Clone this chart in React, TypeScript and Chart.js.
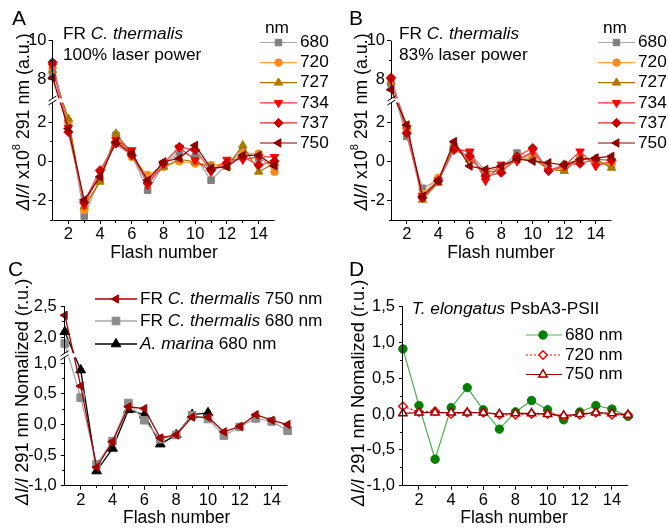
import React, { useEffect, useRef } from "react";
import { Chart, registerables } from "chart.js";
import { drawPoint } from "chart.js/helpers";

Chart.register(...registerables);

const W = 668;
const H = 528;
const FONT = '"Liberation Sans", Arial, Helvetica, sans-serif';

// ---------- data ----------
const FLASH = [1, 2, 3, 4, 5, 6, 7, 8, 9, 10, 11, 12, 13, 14, 15];
const X_MAJOR = [2, 4, 6, 8, 10, 12, 14];
const X_MINOR = [3, 5, 7, 9, 11, 13];

// Panel A: FR C. thermalis, 100% laser power (ΔI/I x10^8)
const A_680 = [8.2, 2.0, -2.8, -0.9, 1.33, 0.3, -1.48, -0.2, 0.47, 0.22, -0.97, -0.15, 0.56, 0.14, -0.27];
const A_720 = [8.6, 2.0, -2.5, -0.9, 1.16, 0.22, -0.71, -0.29, 0.0, -0.12, -0.2, -0.15, 0.42, 0.39, -0.54];
const A_727 = [8.5, 2.17, -2.3, -1.05, 1.41, 0.39, -1.05, -0.29, 0.1, -0.03, -0.3, -0.29, 0.81, -0.54, -0.1];
const A_734 = [8.7, 1.7, -2.24, -0.6, 1.1, 0.56, -1.22, -0.12, 0.7, 0.05, -0.54, 0.08, 0.08, 0.22, 0.22];
const A_737 = [8.9, 1.49, -2.1, -0.46, 0.9, 0.3, -1.1, -0.12, 0.73, 0.56, -0.46, -0.1, 0.22, -0.2, 0.0];
const A_750 = [8.1, 1.66, -1.98, -0.8, 0.98, 0.39, -0.97, -0.03, 0.15, 0.81, -0.37, -0.29, 0.3, 0.3, -0.24];

// Panel B: FR C. thermalis, 83% laser power
const B_680 = [7.8, 1.26, -1.38, -0.95, 0.76, 0.42, -0.5, -0.34, 0.42, 0.2, -0.4, -0.4, 0.15, 0.0, -0.2];
const B_720 = [8.1, 1.6, -1.66, -0.85, 0.6, 0.17, -0.59, -0.42, 0.17, 0.25, -0.45, -0.3, 0.2, -0.1, -0.1];
const B_727 = [7.9, 1.8, -1.97, -1.1, 0.85, 0.08, -0.56, -0.5, 0.08, 0.12, -0.4, -0.5, 0.17, 0.1, -0.34];
const B_734 = [8.0, 1.7, -1.77, -1.0, 0.59, 0.5, -1.0, -0.17, 0.0, 0.5, -0.5, -0.25, 0.5, -0.25, 0.0];
const B_737 = [8.1, 1.43, -1.87, -1.0, 0.59, 0.25, -0.76, -0.59, 0.25, 0.67, -0.5, -0.17, -0.13, 0.1, 0.05];
const B_750 = [7.5, 1.85, -1.8, -1.0, 1.0, -0.25, -0.42, -0.25, 0.12, 0.0, -0.08, -0.2, 0.08, 0.17, 0.25];

// Panel C: normalized
const C_CT750 = [2.36, 0.63, -0.7, -0.28, 0.29, 0.26, -0.22, -0.17, 0.12, 0.12, -0.12, -0.03, 0.16, 0.07, 0.0];
const C_CT680 = [1.9, 0.44, -0.65, -0.27, 0.35, 0.07, -0.24, -0.17, 0.15, 0.09, -0.18, -0.04, 0.1, 0.05, -0.1];
const C_AM680 = [2.09, 0.89, -0.76, -0.39, 0.24, 0.16, -0.32, -0.17, 0.16, 0.19];

// Panel D: T. elongatus PsbA3-PSII
const D_680 = [0.91, 0.12, -0.63, 0.09, 0.37, 0.06, -0.21, 0.03, 0.19, 0.06, -0.08, 0.03, 0.12, 0.07, -0.03];
const D_720 = [0.11, 0.03, 0.04, 0.0, 0.02, 0.02, -0.01, -0.01, 0.0, 0.0, -0.03, -0.01, 0.02, -0.01, -0.01];
const D_750 = [0.01, 0.02, 0.02, 0.02, 0.02, 0.02, 0.0, 0.01, 0.01, 0.0, -0.02, 0.0, 0.02, 0.01, -0.01];

// tick labels
const AB_Y_TICKS = [-2, 0, 2, 8, 10];
const AB_Y_MINOR = [-3, -1, 1, 9];
const C_Y_TICKS = [-1, -0.5, 0, 0.5, 1, 2, 2.5];
const C_Y_MINOR = [-0.75, -0.25, 0.25, 0.75, 2.25];
const D_Y_TICKS = [-1, -0.5, 0, 0.5, 1, 1.5];
const D_Y_MINOR = [-0.75, -0.25, 0.25, 0.75, 1.25];

// ---------- styles ----------
type Sty = {
  line: string;
  marker: string;
  fill?: string;
  style: string;
  rot: number;
  r: number;
  lw: number;
  pbw: number;
  dash?: number[];
};
type Series = Sty & { data: number[] };

const S680: Sty = { line: "#a6a6a6", marker: "#808080", style: "rect", rot: 0, r: 4.6, lw: 1.2, pbw: 1 };
const S720: Sty = { line: "#ffa64d", marker: "#ff8c1a", style: "circle", rot: 0, r: 3.8, lw: 1.2, pbw: 1 };
const S727: Sty = { line: "#9e7400", marker: "#a67c00", style: "triangle", rot: 0, r: 4.8, lw: 1.2, pbw: 1 };
const S734: Sty = { line: "#ff3333", marker: "#ff0000", style: "triangle", rot: 180, r: 4.8, lw: 1.2, pbw: 1 };
const S737: Sty = { line: "#e06666", marker: "#cc0000", style: "rectRot", rot: 0, r: 4.6, lw: 1.6, pbw: 1 };
const S750: Sty = { line: "#8b0000", marker: "#8b0000", style: "triangle", rot: -90, r: 4.8, lw: 1.2, pbw: 1 };
const AB_STYLES = [S680, S720, S727, S734, S737, S750];
const AB_LABELS = ["680", "720", "727", "734", "737", "750"];

const C_S750: Sty = { line: "#a00000", marker: "#a00000", style: "triangle", rot: -90, r: 4.8, lw: 1.3, pbw: 1 };
const C_S680: Sty = { line: "#a6a6a6", marker: "#8c8c8c", style: "rect", rot: 0, r: 5.4, lw: 1.3, pbw: 1 };
const C_SAM: Sty = { line: "#000000", marker: "#000000", style: "triangle", rot: 0, r: 5.6, lw: 1.3, pbw: 1 };

const D_S680: Sty = { line: "#4caf50", marker: "#008000", style: "circle", rot: 0, r: 4.2, lw: 1.2, pbw: 1 };
const D_S720: Sty = { line: "#ff0000", marker: "#ff0000", fill: "#ffffff", style: "rectRot", rot: 0, r: 4.2, lw: 1.2, pbw: 1.5, dash: [2, 2] };
const D_S750: Sty = { line: "#990000", marker: "#990000", fill: "#ffffff", style: "triangle", rot: 0, r: 4.8, lw: 1.2, pbw: 1.5 };

// ---------- text helpers ----------
type Part = { t: string; i?: boolean; sup?: boolean };
function fontOf(p: Part, size: number) {
  return `${p.i ? "italic " : ""}${p.sup ? size * 0.62 : size}px ${FONT}`;
}
function drawRich(ctx: CanvasRenderingContext2D, parts: Part[], x: number, y: number, size: number, align: "left" | "center" = "left") {
  let w = 0;
  for (const p of parts) {
    ctx.font = fontOf(p, size);
    w += ctx.measureText(p.t).width;
  }
  let cx = align === "center" ? x - w / 2 : x;
  ctx.textAlign = "left";
  ctx.textBaseline = "middle";
  ctx.fillStyle = "#000";
  for (const p of parts) {
    ctx.font = fontOf(p, size);
    ctx.fillText(p.t, cx, p.sup ? y - size * 0.4 : y);
    cx += ctx.measureText(p.t).width;
  }
}
function drawRotated(ctx: CanvasRenderingContext2D, parts: Part[], cx: number, cy: number, size: number) {
  ctx.save();
  ctx.translate(cx, cy);
  ctx.rotate(-Math.PI / 2);
  drawRich(ctx, parts, 0, 0, size, "center");
  ctx.restore();
}
function legendRow(ctx: CanvasRenderingContext2D, s: Sty, x1: number, x2: number, mx: number, y: number, tx: number, parts: Part[], size: number) {
  ctx.save();
  ctx.strokeStyle = s.line;
  ctx.lineWidth = s.lw;
  ctx.setLineDash(s.dash || []);
  ctx.beginPath();
  ctx.moveTo(x1, y);
  ctx.lineTo(x2, y);
  ctx.stroke();
  ctx.setLineDash([]);
  ctx.fillStyle = s.fill || s.marker;
  ctx.strokeStyle = s.marker;
  ctx.lineWidth = s.pbw;
  drawPoint(ctx, { pointStyle: s.style as any, rotation: s.rot, radius: s.r, borderWidth: s.pbw }, mx, y);
  ctx.restore();
  drawRich(ctx, parts, tx, y, size);
}

// ---------- panel configs ----------
type PanelCfg = {
  area: { left: number; right: number; top: number; bottom: number };
  yMin: number;
  yMax: number;
  breakAt?: number;
  gap?: number;
  breakDisp?: number;
  yTicks: number[];
  yMinor: number[];
  yPad: number;
  fmt: (v: number) => string;
  series: Series[];
  draw: (ctx: CanvasRenderingContext2D) => void;
};

const intFmt = (v: number) => String(v);
const commaFmt = (v: number) => v.toFixed(1).replace(".", ",");
const TXT = 17.3;
const TITLE_AB: Part[] = [{ t: "ΔI/I", i: true }, { t: " x10" }, { t: "8", sup: true }, { t: " 291 nm (a.u.)" }];
const TITLE_CD: Part[] = [{ t: "ΔI/I", i: true }, { t: " 291 nm Nomalized (r.u.)" }];

function abPanel(letter: string, lx: number, ax: number, lgx: number, power: string, datas: number[][], area: PanelCfg["area"], yTitleX: number, xTitleX: number): PanelCfg {
  return {
    area,
    yMin: -3,
    yMax: 6.15,
    breakAt: 5,
    gap: 3.85,
    breakDisp: 3.1,
    yTicks: AB_Y_TICKS,
    yMinor: AB_Y_MINOR,
    yPad: 2,
    fmt: intFmt,
    series: AB_STYLES.map((s, i) => ({ ...s, data: datas[i] })),
    draw: (ctx) => {
      ctx.fillStyle = "#000";
      ctx.font = `21px ${FONT}`;
      ctx.textAlign = "left";
      ctx.textBaseline = "alphabetic";
      ctx.fillText(letter, lx, 25);
      drawRich(ctx, [{ t: "FR " }, { t: "C. thermalis", i: true }], ax, 34, TXT);
      drawRich(ctx, [{ t: power }], ax, 55.5, TXT);
      drawRich(ctx, [{ t: "nm" }], lgx + 5, 28, TXT);
      AB_STYLES.forEach((s, i) => {
        const y = 42.5 + i * 20.1;
        legendRow(ctx, s, lgx, lgx + 37, lgx + 18.5, y, lgx + 40, [{ t: AB_LABELS[i] }], TXT);
      });
      drawRotated(ctx, TITLE_AB, yTitleX, 122, 17.8);
      drawRich(ctx, [{ t: "Flash number" }], xTitleX, 253, 17.6, "center");
    },
  };
}

const PANEL_A = abPanel("A", 12, 63, 260, "100% laser power", [A_680, A_720, A_727, A_734, A_737, A_750], { left: 52.5, right: 274.5, top: 40.7, bottom: 220 }, 24, 164);
const PANEL_B = abPanel("B", 349, 399, 598, "83% laser power", [B_680, B_720, B_727, B_734, B_737, B_750], { left: 391, right: 611.5, top: 40.7, bottom: 220 }, 362, 501);

const PANEL_C: PanelCfg = {
  area: { left: 64.8, right: 287.6, top: 306.7, bottom: 485.7 },
  yMin: -1,
  yMax: 1.925,
  breakAt: 1.5,
  gap: 0.575,
  breakDisp: 1.13,
  yTicks: C_Y_TICKS,
  yMinor: C_Y_MINOR,
  yPad: 4,
  fmt: commaFmt,
  series: [
    { ...C_SAM, data: C_AM680 },
    { ...C_S680, data: C_CT680 },
    { ...C_S750, data: C_CT750 },
  ],
  draw: (ctx) => {
    ctx.fillStyle = "#000";
    ctx.font = `21px ${FONT}`;
    ctx.textAlign = "left";
    ctx.textBaseline = "alphabetic";
    ctx.fillText("C", 8, 276);
    legendRow(ctx, C_S750, 95, 137, 116, 299, 140, [{ t: "FR " }, { t: "C. thermalis", i: true }, { t: " 750 nm" }], TXT);
    legendRow(ctx, C_S680, 95, 137, 116, 321, 140, [{ t: "FR " }, { t: "C. thermalis", i: true }, { t: " 680 nm" }], TXT);
    legendRow(ctx, C_SAM, 95, 137, 116, 344, 140, [{ t: "A. marina", i: true }, { t: " 680 nm" }], TXT);
    drawRotated(ctx, TITLE_CD, 23, 392, 18.2);
    drawRich(ctx, [{ t: "Flash number" }], 176.7, 518, 17.6, "center");
  },
};

const PANEL_D: PanelCfg = {
  area: { left: 402.9, right: 628, top: 306.7, bottom: 485.7 },
  yMin: -1,
  yMax: 1.5,
  yTicks: D_Y_TICKS,
  yMinor: D_Y_MINOR,
  yPad: 4,
  fmt: commaFmt,
  series: [
    { ...D_S680, data: D_680 },
    { ...D_S720, data: D_720 },
    { ...D_S750, data: D_750 },
  ],
  draw: (ctx) => {
    ctx.fillStyle = "#000";
    ctx.font = `21px ${FONT}`;
    ctx.textAlign = "left";
    ctx.textBaseline = "alphabetic";
    ctx.fillText("D", 349, 276);
    drawRich(ctx, [{ t: "T. elongatus", i: true }, { t: " PsbA3-PSII" }], 411.7, 309, TXT);
    legendRow(ctx, D_S680, 526, 562, 543, 335, 565, [{ t: "680 nm" }], TXT);
    legendRow(ctx, D_S720, 526, 562, 543, 355, 565, [{ t: "720 nm" }], TXT);
    legendRow(ctx, D_S750, 526, 562, 543, 374.5, 565, [{ t: "750 nm" }], TXT);
    drawRotated(ctx, TITLE_CD, 359, 393, 18.2);
    drawRich(ctx, [{ t: "Flash number" }], 514, 518, 17.6, "center");
  },
};

const PANELS = [PANEL_A, PANEL_B, PANEL_C, PANEL_D];

// ---------- chart builder ----------
const al = (v: number) => Math.round(v - 0.5) + 0.5;

function buildChart(canvas: HTMLCanvasElement, p: PanelCfg) {
  const disp = (v: number) => (p.gap && p.breakAt != null && v > p.breakAt ? v - p.gap : v);
  const n = p.series.length;
  const datasets = p.series.map((s, i) => ({
    data: s.data.map((v, k) => ({ x: FLASH[k], y: disp(v) })),
    borderColor: s.line,
    backgroundColor: s.fill || s.marker,
    pointBackgroundColor: s.fill || s.marker,
    pointBorderColor: s.marker,
    pointBorderWidth: s.pbw,
    pointStyle: s.style as any,
    pointRotation: s.rot,
    pointRadius: s.r,
    pointHoverRadius: s.r,
    borderWidth: s.lw,
    borderDash: s.dash || [],
    fill: false,
    tension: 0,
    clip: false as any,
    order: n - i,
  }));

  const deco = {
    id: "deco",
    afterDatasetsDraw(chart: any) {
      const ctx: CanvasRenderingContext2D = chart.ctx;
      const a = chart.chartArea;
      const xs = chart.scales.x;
      const ys = chart.scales.y;
      const ax = al(a.left);
      const bx = al(a.bottom);
      ctx.save();
      let by: number | null = null;
      if (p.breakDisp != null) {
        by = ys.getPixelForValue(p.breakDisp);
        const x2 = xs.getPixelForValue(2.6);
        ctx.fillStyle = "#ffffff";
        ctx.fillRect(a.left - 6, by - 2, x2 - a.left + 6, 4);
      }
      ctx.strokeStyle = "#000";
      ctx.lineWidth = 1;
      ctx.beginPath();
      if (by != null) {
        ctx.moveTo(ax, a.top);
        ctx.lineTo(ax, by - 2);
        ctx.moveTo(ax, by + 2);
        ctx.lineTo(ax, a.bottom);
      } else {
        ctx.moveTo(ax, a.top);
        ctx.lineTo(ax, a.bottom);
      }
      ctx.moveTo(a.left, bx);
      ctx.lineTo(a.right, bx);
      // minor ticks
      for (const v of p.yMinor) {
        const y = al(ys.getPixelForValue(disp(v)));
        ctx.moveTo(ax - 2.5, y);
        ctx.lineTo(ax, y);
      }
      for (const v of X_MINOR) {
        const x = al(xs.getPixelForValue(v));
        ctx.moveTo(x, bx);
        ctx.lineTo(x, bx + 2.5);
      }
      ctx.stroke();
      if (by != null) {
        ctx.beginPath();
        for (const dy of [-2, 2]) {
          ctx.moveTo(ax - 4, by + dy + 2.5);
          ctx.lineTo(ax + 4, by + dy - 2.5);
        }
        ctx.stroke();
      }
      ctx.restore();
    },
    afterDraw(chart: any) {
      const ctx: CanvasRenderingContext2D = chart.ctx;
      ctx.save();
      p.draw(ctx);
      ctx.restore();
    },
  };

  const tickFont = { family: FONT, size: 16.5 };
  const yAxisW = p.area.left;
  const xAxisH = H - p.area.bottom;
  return new Chart(canvas, {
    type: "line",
    data: { datasets: datasets as any },
    plugins: [deco],
    options: {
      animation: false,
      responsive: false,
      devicePixelRatio: 1,
      events: [],
      layout: {
        padding: {
          left: 0,
          top: p.area.top,
          right: W - p.area.right,
          bottom: 0,
        },
      },
      plugins: { legend: { display: false }, tooltip: { enabled: false } },
      scales: {
        x: {
          type: "linear",
          min: 1,
          max: 15,
          afterBuildTicks: (s: any) => {
            s.ticks = X_MAJOR.map((v) => ({ value: v }));
          },
          afterFit: (s: any) => {
            s.height = xAxisH;
          },
          ticks: {
            color: "#000",
            font: tickFont,
            padding: 1,
            maxRotation: 0,
            minRotation: 0,
            autoSkip: false,
            callback: (v: any) => String(v),
          },
          grid: { display: true, drawOnChartArea: false, drawTicks: true, tickLength: 4, color: "#000", lineWidth: 1 },
          border: { display: false },
        },
        y: {
          type: "linear",
          min: p.yMin,
          max: p.yMax,
          afterBuildTicks: (s: any) => {
            s.ticks = p.yTicks.map((v) => ({ value: disp(v) }));
          },
          afterFit: (s: any) => {
            s.width = yAxisW;
          },
          ticks: {
            color: "#000",
            font: tickFont,
            padding: p.yPad,
            autoSkip: false,
            callback: (_v: any, i: number) => p.fmt(p.yTicks[i]),
          },
          grid: { display: true, drawOnChartArea: false, drawTicks: true, tickLength: 4, color: "#000", lineWidth: 1 },
          border: { display: false },
        },
      },
    } as any,
  });
}

function Panel({ cfg }: { cfg: PanelCfg }) {
  const ref = useRef<HTMLCanvasElement>(null);
  useEffect(() => {
    const chart = buildChart(ref.current as HTMLCanvasElement, cfg);
    return () => chart.destroy();
  }, [cfg]);
  return <canvas ref={ref} width={W} height={H} style={{ position: "absolute", left: 0, top: 0, width: W, height: H }} />;
}

export default function App() {
  return (
    <div style={{ position: "absolute", left: 0, top: 0, width: W, height: H, background: "#ffffff", overflow: "hidden" }}>
      {PANELS.map((p, i) => (
        <Panel key={i} cfg={p} />
      ))}
    </div>
  );
}
